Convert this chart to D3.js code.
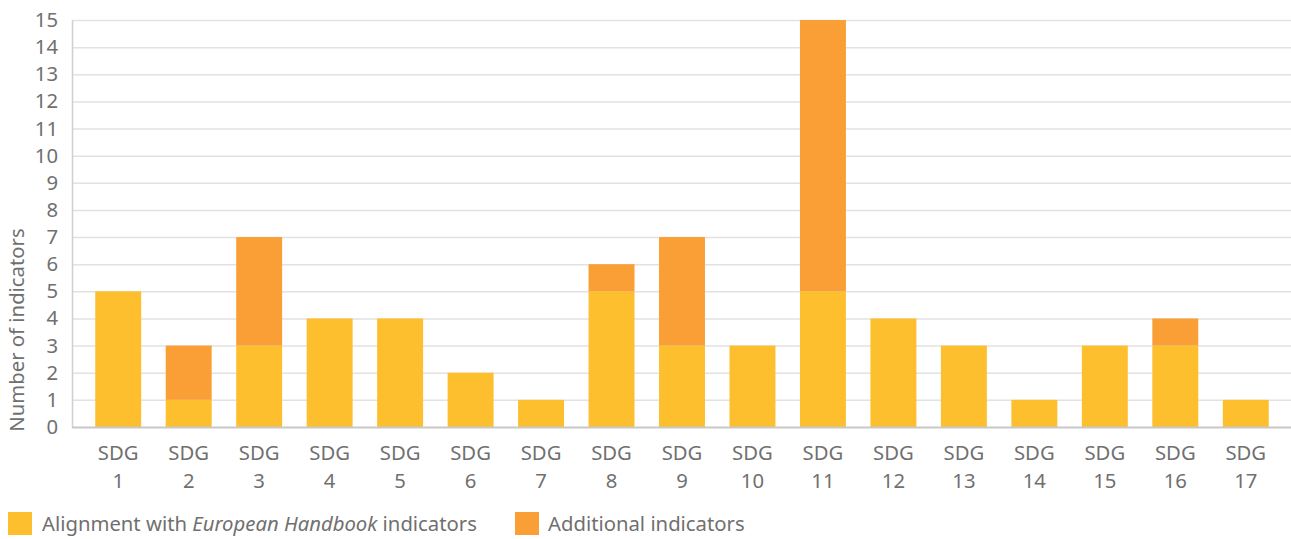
<!DOCTYPE html>
<html>
<head>
<meta charset="utf-8">
<script src="https://cdn.jsdelivr.net/npm/d3@7"></script>
<style>
  html, body { margin: 0; padding: 0; background: #fff; }
  svg { display: block; font-family: "Noto Sans", "Open Sans", sans-serif; }
</style>
</head>
<body>
<svg id="chart" width="1291" height="539"></svg>
<script>
// Indicators per SDG, split into aligned and additional ones
const categories = ["1","2","3","4","5","6","7","8","9","10","11","12","13","14","15","16","17"];
const aligned    = [5, 1, 3, 4, 4, 2, 1, 5, 3, 3, 5, 4, 3, 1, 3, 3, 1];
const additional = [0, 2, 4, 0, 0, 0, 0, 1, 4, 0, 10, 0, 0, 0, 0, 1, 0];
const yTicks = d3.range(0, 16);
const seriesNames = ["Alignment with European Handbook indicators", "Additional indicators"];
const colors = ["#FDBF2D", "#F99F36"];

const svg = d3.select("#chart");
const margin = { left: 72, right: 0, top: 20, bottom: 112 };
const W = 1291, H = 539;
const plotBottom = 427;
const fontSize = "20.3px";

const rows = categories.map((c, i) => ({ cat: c, a: aligned[i], b: additional[i] }));
const stack = d3.stack().keys(["a", "b"])(rows);

const x = d3.scaleBand().domain(categories).range([margin.left, 1292])
  .paddingInner(0.348).paddingOuter(0.33);
const y = d3.scaleLinear().domain([0, 15]).range([plotBottom, margin.top]);

const textColor = "#707070";

// Grid lines
svg.append("g").selectAll("line").data(yTicks.filter(d => d > 0)).join("line")
  .attr("x1", margin.left).attr("x2", W)
  .attr("y1", d => y(d) + 0.5).attr("y2", d => y(d) + 0.5)
  .attr("stroke", "#e2e2e2").attr("stroke-width", 1.5);

// Bars
svg.append("g").selectAll("g").data(stack).join("g")
  .attr("fill", (d, i) => colors[i])
  .selectAll("rect").data(d => d).join("rect")
  .attr("x", d => x(d.data.cat))
  .attr("width", x.bandwidth())
  .attr("y", d => y(d[1]))
  .attr("height", d => y(d[0]) - y(d[1]));

// Y axis
const yAxis = d3.axisLeft(y).tickValues(yTicks).tickSize(0).tickPadding(14).tickFormat(d3.format("d"));
const gy = svg.append("g").attr("transform", `translate(${margin.left},0)`).call(yAxis);
gy.select(".domain").attr("stroke", "#cfcfcf").attr("stroke-width", 1.5);
gy.selectAll("text").attr("fill", textColor).style("font-size", fontSize).style("font-family", "Noto Sans");

// X axis baseline
svg.append("line").attr("x1", margin.left).attr("x2", W)
  .attr("y1", plotBottom + 0.5).attr("y2", plotBottom + 0.5)
  .attr("stroke", "#c8c8c8").attr("stroke-width", 2);

// X labels (two lines)
const xl = svg.append("g").selectAll("text").data(categories).join("text")
  .attr("x", d => x(d) + x.bandwidth() / 2)
  .attr("text-anchor", "middle")
  .attr("fill", textColor).style("font-size", fontSize);
xl.append("tspan").attr("x", d => x(d) + x.bandwidth() / 2).attr("y", 460).text("SDG");
xl.append("tspan").attr("x", d => x(d) + x.bandwidth() / 2).attr("y", 488).text(d => d);

// Y axis title
svg.append("text")
  .attr("transform", "translate(24,330) rotate(-90)")
  .attr("text-anchor", "middle")
  .attr("fill", textColor).style("font-size", fontSize)
  .text("Number of indicators");

// Legend
const legend = svg.append("g");
legend.append("rect").attr("x", 8).attr("y", 512).attr("width", 24).attr("height", 23).attr("fill", colors[0]);
const t1 = legend.append("text").attr("x", 42).attr("y", 531).attr("fill", textColor).style("font-size", fontSize);
t1.append("tspan").text("Alignment with ");
t1.append("tspan").style("font-style", "italic").text("European Handbook");
t1.append("tspan").text(" indicators");
legend.append("rect").attr("x", 515).attr("y", 512).attr("width", 24).attr("height", 23).attr("fill", colors[1]);
legend.append("text").attr("x", 548).attr("y", 531).attr("fill", textColor).style("font-size", fontSize)
  .text(seriesNames[1]);
</script>
</body>
</html>
